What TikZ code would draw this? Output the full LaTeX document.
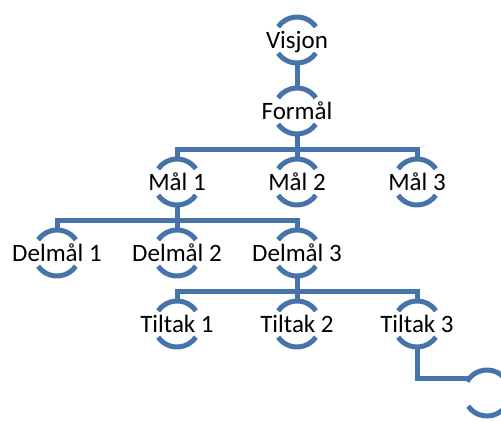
\documentclass[tikz,border=0pt]{standalone}
\usepackage{fontspec}
\setmainfont{Carlito}
\usepackage{tikz}
\usetikzlibrary{positioning}
\definecolor{treeblue}{HTML}{4673AA}

\begin{document}
\begin{tikzpicture}[
            x=1pt,y=1pt,
            every node/.style={on grid},
            node distance=71pt and 120pt,
            goaltext/.style={font=\fontsize{25}{30}\selectfont,inner sep=0pt,
                text height=16pt,text depth=0pt},
            goal/.style={circle,minimum size=46pt,inner sep=0pt,outer sep=0pt,
                label={[goaltext]center:#1}},
            treeline/.style={draw=treeblue,line width=5pt}
        ]
        \useasboundingbox (0,0) rectangle (501,-421);
        \clip (0,0) rectangle (501,-421);

        % Draw top of tree %
        \node[goal=Visjon] (visjon) at (297,-40) {};
        \node[goal=Formål, below = of visjon] (formal) {};

        % Draw goals %
        \node[goal=Mål 2, below = of formal] (mal2) {};
        \node[goal=Mål 1, left = of mal2] (mal1) {};
        \node[goal=Mål 3, right = of mal2] (mal3) {};

        % Draw sub goals %
        \node[goal=Delmål 2, below = of mal1] (delmal2) {};
        \node[goal=Delmål 1, left = of delmal2] (delmal1) {};
        \node[goal=Delmål 3, right = of delmal2] (delmal3) {};

        % Draw actions %
        \node[goal=Tiltak 2, below = of delmal3] (tiltak2) {};
        \node[goal=Tiltak 1, left = of tiltak2] (tiltak1) {};
        \node[goal=Tiltak 3, right = of tiltak2] (tiltak3) {};
        \node[goal=, below right=69pt and 70pt of tiltak3] (ende) {};

        % Draw connectors %
        \draw[treeline] (visjon.south) -- (formal.north);
        \foreach \c in {mal1,mal2,mal3}
            \draw[treeline] (formal.south) |- ([yshift=10pt]\c.north) -- (\c.north);
        \foreach \c in {delmal1,delmal2,delmal3}
            \draw[treeline] (mal1.south) |- ([yshift=10pt]\c.north) -- (\c.north);
        \foreach \c in {tiltak1,tiltak2,tiltak3}
            \draw[treeline] (delmal3.south) |- ([yshift=10pt]\c.north) -- (\c.north);
        \draw[treeline] (tiltak3.south) |- (ende.140);

        % Draw arcs %
        \foreach \n in {visjon,formal,mal1,mal2,mal3,delmal1,delmal2,delmal3,tiltak1,tiltak2,tiltak3}{
            \draw[treeline] (\n.35) arc (35:145:23pt);
            \draw[treeline] (\n.215) arc (215:325:23pt);
        }
        \draw[treeline] (ende.20) arc (20:150:23pt);
        \draw[treeline] (ende.215) arc (215:340:23pt);
\end{tikzpicture}
\end{document}
